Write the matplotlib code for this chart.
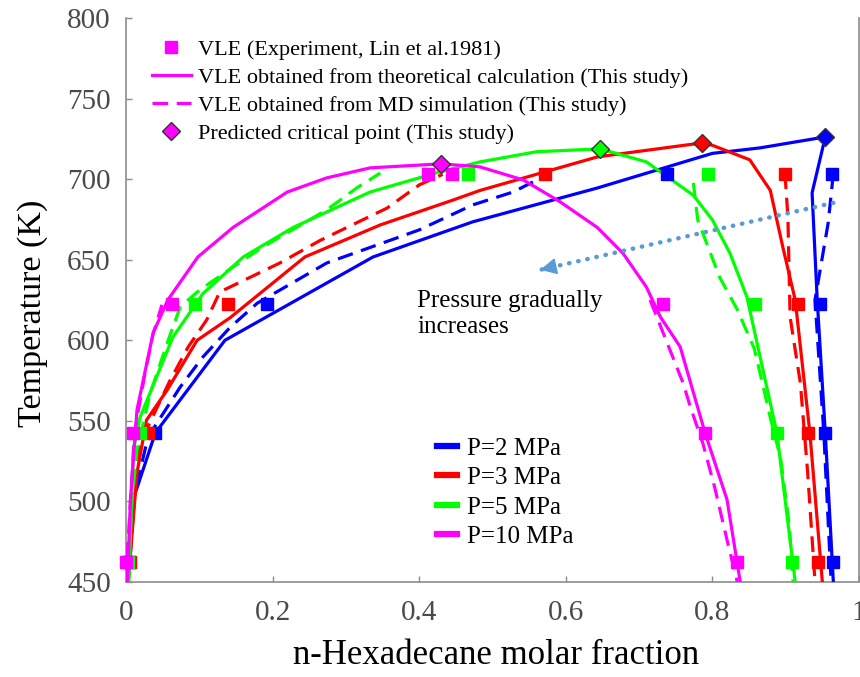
import matplotlib
matplotlib.use('Agg')
import matplotlib.pyplot as plt
from matplotlib.lines import Line2D

plt.rcParams['font.family'] = ['Liberation Serif', 'DejaVu Serif']

# pressure labels and colours
labels = ['P=2 MPa', 'P=3 MPa', 'P=5 MPa', 'P=10 MPa']
colors = ['#0000ff', '#ff0000', '#00ff00', '#ff00ff']

# experiment temperatures (Lin et al. 1981)
T_exp = [462.5, 542.5, 622.5, 703.5]
exp_liq_2 = [0.004, 0.040, 0.192, 0.738]
exp_vap_2 = [0.965, 0.954, 0.947, 0.963]
exp_liq_3 = [0.006, 0.030, 0.139, 0.572]
exp_vap_3 = [0.944, 0.930, 0.917, 0.899]
exp_liq_5 = [0.003, 0.019, 0.094, 0.467]
exp_vap_5 = [0.908, 0.888, 0.858, 0.794]
exp_liq_10 = [0.000, 0.010, 0.063, 0.412]
exp_vap_10 = [0.834, 0.790, 0.733, 0.445]

# theoretical calculation (solid lines)
theo_x_2 = [0.003, 0.0096, 0.04, 0.135, 0.337, 0.473, 0.643, 0.80, 0.865, 0.954,
            0.936, 0.943, 0.954, 0.965]
theo_T_2 = [450, 501, 542.5, 600, 651.7, 673.5, 694.5, 716, 719.4, 726.2,
            691.5, 625, 542.5, 450]
theo_x_3 = [0.003, 0.015, 0.028, 0.056, 0.097, 0.142, 0.244, 0.347, 0.446, 0.483,
            0.643, 0.786, 0.80, 0.851, 0.879, 0.896, 0.913, 0.933, 0.95]
theo_T_3 = [450, 517.7, 550.5, 569, 600, 614, 651.7, 671.6, 687, 693,
            713.8, 722.5, 721, 712, 693, 658, 625, 542.5, 450]
theo_x_5 = [0.004, 0.01, 0.019, 0.064, 0.105, 0.16, 0.228, 0.333, 0.428, 0.483,
            0.56, 0.647, 0.71, 0.774, 0.80, 0.824, 0.847, 0.888, 0.913]
theo_T_5 = [450, 532, 552, 602, 629, 651.7, 670, 692, 704.5, 710.7,
            717, 718.8, 710.7, 690, 674.7, 654, 627, 542.5, 450]
theo_x_10 = [0.002, 0.006, 0.015, 0.037, 0.057, 0.098, 0.146, 0.22, 0.274, 0.333,
             0.43, 0.483, 0.542, 0.592, 0.643, 0.678, 0.71, 0.729, 0.756, 0.79,
             0.82, 0.838]
theo_T_10 = [450, 501, 556.8, 604.5, 625, 651.7, 670, 692, 700.8, 707,
             709.5, 707.6, 699.5, 686, 670, 654, 633, 614.5, 596, 542.5,
             501, 450]

# MD simulation (dashed lines), liquid and vapour branches
md_liq_x_2 = [0.003, 0.012, 0.03, 0.074, 0.105, 0.142, 0.179, 0.274, 0.40, 0.473, 0.528, 0.574]
md_liq_T_2 = [450, 505, 540, 571, 589.7, 608, 623, 648, 668.5, 684, 692, 702.6]
md_vap_x_2 = [0.965, 0.958, 0.95, 0.94, 0.952, 0.962]
md_vap_T_2 = [703.5, 673, 651.7, 625, 542.5, 450]
md_liq_x_3 = [0.002, 0.01, 0.019, 0.06, 0.085, 0.11, 0.128, 0.21, 0.265, 0.356, 0.40, 0.432]
md_liq_T_3 = [450, 505, 536, 575, 596, 612.6, 630, 648, 662, 682, 696.4, 703]
md_vap_x_3 = [0.899, 0.903, 0.906, 0.92, 0.93, 0.94]
md_vap_T_3 = [703.5, 676.6, 614.5, 573.5, 517.7, 450]
md_liq_x_5 = [0.002, 0.008, 0.015, 0.033, 0.056, 0.074, 0.10, 0.146, 0.187, 0.274, 0.315, 0.347]
md_liq_T_5 = [450, 500, 532, 567, 598, 620.7, 631, 645.5, 658, 681, 694.6, 703.8]
md_vap_x_5 = [0.774, 0.78, 0.81, 0.834, 0.857, 0.87, 0.88, 0.893, 0.905, 0.91]
md_vap_T_5 = [697.7, 674.7, 639, 619, 595, 570, 550, 527, 485, 450]
md_liq_x_10 = [0.001, 0.001, 0.012, 0.026, 0.037, 0.049]
md_liq_T_10 = [450, 462, 544, 579.7, 604, 622]
md_vap_x_10 = [0.715, 0.76, 0.77, 0.787, 0.803, 0.82, 0.834]
md_vap_T_10 = [625, 573.5, 558.6, 536, 509, 476, 450]

# predicted critical points
crit_x = [0.954, 0.786, 0.647, 0.430]
crit_T = [726.2, 722.5, 718.8, 709.5]

# "pressure increases" arrow, start and end
arrow_x = [0.965, 0.565]
arrow_T = [685.3, 643.7]

series = [
    (theo_x_2, theo_T_2, md_liq_x_2, md_liq_T_2, md_vap_x_2, md_vap_T_2, exp_liq_2, exp_vap_2),
    (theo_x_3, theo_T_3, md_liq_x_3, md_liq_T_3, md_vap_x_3, md_vap_T_3, exp_liq_3, exp_vap_3),
    (theo_x_5, theo_T_5, md_liq_x_5, md_liq_T_5, md_vap_x_5, md_vap_T_5, exp_liq_5, exp_vap_5),
    (theo_x_10, theo_T_10, md_liq_x_10, md_liq_T_10, md_vap_x_10, md_vap_T_10, exp_liq_10, exp_vap_10),
]

fig = plt.figure(figsize=(8.6, 6.77), dpi=100)
ax = fig.add_axes([126 / 860, 95 / 677, 733 / 860, 564 / 677])

lw = 2.3
dash = (4.9, 2.7)
for i, (tx, tT, lx, lT, vx, vT, el, ev) in enumerate(series):
    c = colors[i]
    ax.plot(tx, tT, color=c, lw=lw, zorder=3)
    ax.plot(lx, lT, color=c, lw=lw, dashes=dash, zorder=3)
    ax.plot(vx, vT, color=c, lw=lw, dashes=dash, zorder=3)
    ax.plot(el, T_exp, ls='none', marker='s', ms=8, color=c, mec=c, zorder=4, clip_on=False)
    ax.plot(ev, T_exp, ls='none', marker='s', ms=8, color=c, mec=c, zorder=4, clip_on=False)
    ax.plot(crit_x[i], crit_T[i], ls='none', marker='D', ms=9, mfc=c, mec='#333333',
            mew=1.0, zorder=5)

# dotted arrow: dotted shaft plus a solid head at the end
arrow_c = '#5b9bd5'
ax.plot(arrow_x, arrow_T, color=arrow_c, lw=3.2, ls=(0, (0.1, 2.0)),
        dash_capstyle='round', zorder=6)
head_from = (arrow_x[1] + 0.03 * (arrow_x[0] - arrow_x[1]),
             arrow_T[1] + 0.03 * (arrow_T[0] - arrow_T[1]))
ax.annotate('', xy=(arrow_x[1], arrow_T[1]), xytext=head_from,
            arrowprops=dict(arrowstyle='-|>', color=arrow_c, lw=1, mutation_scale=26,
                            shrinkA=0, shrinkB=0),
            zorder=6)
ax.text(0.397, 631, 'Pressure gradually\nincreases', fontsize=18, ha='left', va='top',
        linespacing=1.2, zorder=6)

ax.set_xlim(0, 1)
ax.set_ylim(450, 800)
ax.set_xticks([0, 0.2, 0.4, 0.6, 0.8, 1])
ax.set_xticklabels(['0', '0.2', '0.4', '0.6', '0.8', '1'])
ax.set_yticks(range(450, 801, 50))

ax.spines['top'].set_visible(False)
for s in ['left', 'bottom', 'right']:
    ax.spines[s].set_color('#8c8c8c')
    ax.spines[s].set_linewidth(1.2)
ax.tick_params(direction='in', length=4, width=1, color='#8c8c8c',
               labelcolor='#4a4a4a', labelsize=21, pad=11)
ax.tick_params(axis='x', pad=13)
ax.tick_params(axis='y', right=False)

ax.set_xlabel('n-Hexadecane molar fraction', fontsize=25, va='center')
ax.set_ylabel('Temperature (K)', fontsize=24.5, va='center')
ax.xaxis.set_label_coords(0.505, -0.13)
ax.yaxis.set_label_coords(-0.127, 0.476)

m = '#ff00ff'
h1 = [
    Line2D([], [], ls='none', marker='s', ms=8, color=m),
    Line2D([], [], color=m, lw=lw),
    Line2D([], [], color=m, lw=lw, dashes=dash),
    Line2D([], [], ls='none', marker='D', ms=9, mfc=m, mec='#333333'),
]
t1 = ['VLE (Experiment, Lin et al.1981)',
      'VLE obtained from theoretical calculation (This study)',
      'VLE obtained from MD simulation (This study)',
      'Predicted critical point (This study)']
leg1 = ax.legend(h1, t1, loc='upper left', bbox_to_anchor=(0.0355, 0.962), frameon=False,
                 fontsize=16, handlelength=1.75, handletextpad=0.3, labelspacing=0.33,
                 borderpad=0, borderaxespad=0)
ax.add_artist(leg1)

h2 = [Line2D([], [], color=c, lw=4.5) for c in colors]
ax.legend(h2, labels, loc='upper left', bbox_to_anchor=(0.424, 0.257), frameon=False,
          fontsize=18, handlelength=0.8, handletextpad=0.4, labelspacing=0.28,
          borderpad=0, borderaxespad=0)

fig.savefig('out.png', dpi=100)
